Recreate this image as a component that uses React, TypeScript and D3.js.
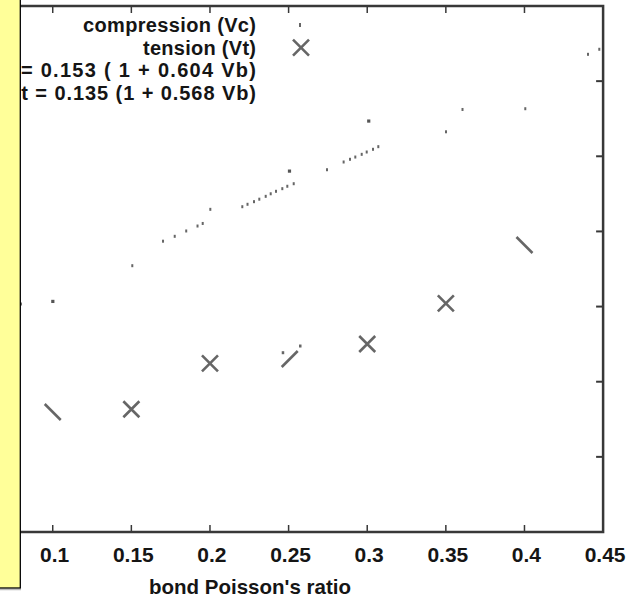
import React from "react";
import * as d3 from "d3";

// ---- data ----
const xTickValues = [0.1, 0.15, 0.2, 0.25, 0.3, 0.35, 0.4, 0.45];
const xTickLabels = ["0.1", "0.15", "0.2", "0.25", "0.3", "0.35", "0.4", "0.45"];
const yTickValues = [0.14, 0.15, 0.16, 0.17, 0.18, 0.19];

// compression (Vc): data points (square dots)
const compressionPoints: [number, number][] = [
  [0.1, 0.1607],
  [0.2505, 0.17804],
  [0.3009, 0.1847],
];

// compression (Vc): fine dotted trace
const compressionDots: [number, number][] = [
  [0.0798, 0.16034],
  [0.1506, 0.16544],
  [0.17014, 0.1687],
  [0.17758, 0.16935],
  [0.18489, 0.17006],
  [0.19208, 0.17072],
  [0.19538, 0.17106],
  [0.20022, 0.17294],
  [0.22056, 0.17329],
  [0.22387, 0.17361],
  [0.228, 0.17396],
  [0.23137, 0.17429],
  [0.23544, 0.17467],
  [0.23862, 0.17501],
  [0.24199, 0.17534],
  [0.246, 0.17569],
  [0.24918, 0.17601],
  [0.25325, 0.17635],
  [0.27442, 0.17821],
  [0.285, 0.17924],
  [0.28905, 0.1796],
  [0.29242, 0.1799],
  [0.29649, 0.18026],
  [0.29967, 0.18057],
  [0.30368, 0.18093],
  [0.30705, 0.18128],
  [0.3501, 0.18326],
  [0.36059, 0.18623],
  [0.40052, 0.18633],
  [0.4404, 0.19357],
  [0.44758, 0.19424],
];

// tension (Vt): full crosses
const tensionCross: [number, number][] = [
  [0.15, 0.14633],
  [0.2, 0.15245],
  [0.3, 0.15502],
  [0.35, 0.16043],
];
// tension (Vt): crosses of which only the "\" stroke remains
const tensionBack: [number, number][] = [
  [0.1, 0.14597],
  [0.4, 0.16819],
];
// tension (Vt): crosses of which only the "/" stroke remains
const tensionFwd: [number, number][] = [[0.2507, 0.15302]];
// tension (Vt): stray dots
const tensionDots: [number, number][] = [
  [0.24626, 0.15386],
  [0.25726, 0.15475],
];

const legendLines = [
  "compression (Vc)",
  "tension (Vt)",
  "Vc = 0.153 ( 1 + 0.604 Vb)",
  "Vt = 0.135 (1 + 0.568 Vb)",
];
const legendWidths = [173, 113, 269, 249];

const W = 640;
const H = 600;
const FONT = "'Liberation Sans', Arial, Helvetica, sans-serif";
const MARK = "#666";
const FRAME = "#383838";
const TEXT = "#151515";

export default function App() {
  const x = d3.scaleLinear().domain([0.05, 0.45]).range([-25.9, 603.1]);
  const y = d3.scaleLinear().domain([0.13, 0.2]).range([532, 6]);
  const left = -30;
  const right = x(0.45);
  const top = y(0.2);
  const bottom = y(0.13);
  const tl = 7;
  const s = 8;

  const cross = (cx: number, cy: number, parts: "both" | "back" | "fwd") => {
    let d = "";
    if (parts !== "fwd") d += `M${cx - s},${cy - s}L${cx + s},${cy + s}`;
    if (parts !== "back") d += `M${cx - s},${cy + s}L${cx + s},${cy - s}`;
    return d;
  };

  return (
    <svg
      width={W}
      height={H}
      style={{ position: "absolute", left: 0, top: 0, background: "#fff" }}
    >
      <rect x={0} y={0} width={W} height={H} fill="#fff" />
      {/* ticks */}
      {xTickValues.map((v) => (
        <g key={"xt" + v}>
          <line x1={x(v)} x2={x(v)} y1={bottom} y2={bottom - tl} stroke={FRAME} strokeWidth={1.5} />
          <line x1={x(v)} x2={x(v)} y1={top} y2={top + tl} stroke={FRAME} strokeWidth={1.5} />
        </g>
      ))}
      {yTickValues.map((v) => (
        <line key={"yt" + v} x1={right} x2={right - tl} y1={y(v)} y2={y(v)} stroke={FRAME} strokeWidth={2} />
      ))}
      {/* frame */}
      <path
        d={`M${left},${top}L${right},${top}L${right},${bottom}L${left},${bottom}`}
        fill="none"
        stroke={FRAME}
        strokeWidth={2.5}
      />
      {/* x tick labels */}
      {xTickValues.map((v, i) => (
        <text
          key={"xl" + v}
          x={x(v) + 2}
          y={562}
          textAnchor="middle"
          fontFamily={FONT}
          fontWeight="bold"
          fontSize={21}
          fill={TEXT}
        >
          {xTickLabels[i]}
        </text>
      ))}
      <text x={250} y={594} textAnchor="middle" fontFamily={FONT} fontWeight="bold" fontSize={20.5} fill={TEXT}>
        bond Poisson's ratio
      </text>

      {/* compression dots */}
      {compressionDots.map(([a, b], i) => (
        <rect key={"cd" + i} x={x(a) - 1} y={y(b) - 1.5} width={2} height={3} fill={MARK} />
      ))}
      {compressionPoints.map(([a, b], i) => (
        <rect key={"cp" + i} x={x(a) - 1.5} y={y(b) - 1.5} width={3.2} height={3.2} fill="#555" />
      ))}
      {tensionDots.map(([a, b], i) => (
        <rect key={"td" + i} x={x(a) - 1} y={y(b) - 1.5} width={2.5} height={3} fill={MARK} />
      ))}
      {/* tension crosses */}
      {tensionCross.map(([a, b], i) => (
        <path key={"tc" + i} d={cross(x(a), y(b), "both")} stroke={MARK} strokeWidth={2.6} fill="none" />
      ))}
      {tensionBack.map(([a, b], i) => (
        <path key={"tb" + i} d={cross(x(a), y(b), "back")} stroke={MARK} strokeWidth={2.6} fill="none" />
      ))}
      {tensionFwd.map(([a, b], i) => (
        <path key={"tf" + i} d={cross(x(a), y(b), "fwd")} stroke={MARK} strokeWidth={2.6} fill="none" />
      ))}

      {/* legend */}
      {legendLines.map((t, i) => (
        <text
          key={"lg" + i}
          x={256}
          y={32 + i * 22.7}
          textAnchor="end"
          fontFamily={FONT}
          fontWeight="bold"
          fontSize={20}
          fill={TEXT}
          textLength={legendWidths[i]}
          lengthAdjust="spacing"
        >
          {t}
        </text>
      ))}
      <rect x={299} y={23} width={2} height={4} fill={MARK} />
      <path d={cross(301, 47.7, "both")} stroke={MARK} strokeWidth={2.6} fill="none" />

      {/* yellow note box overlay */}
      <line x1={-5} x2={21} y1={589.5} y2={589.5} stroke="#bbb" strokeWidth={1.5} />
      <rect x={-10} y={-10} width={30.3} height={598} fill="#ffff99" stroke="#000" strokeWidth={1.3} />
    </svg>
  );
}
